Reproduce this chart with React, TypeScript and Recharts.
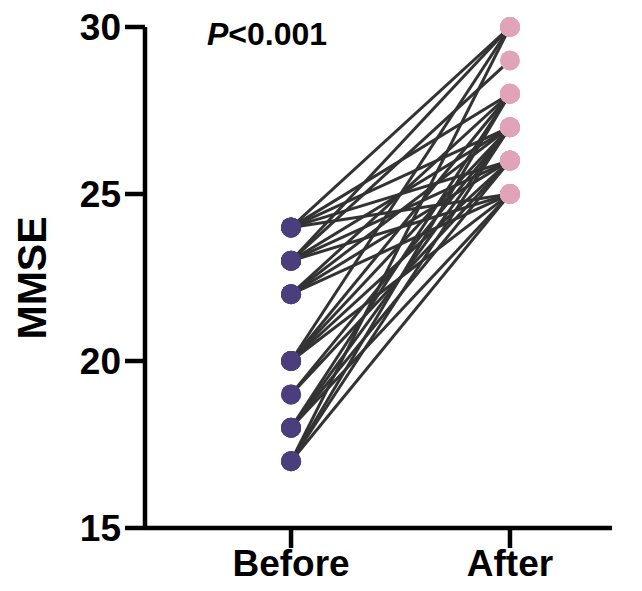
import { ScatterChart, Scatter, XAxis, YAxis } from "recharts";

const groups = ["Before", "After"];
const yTicks = [15, 20, 25, 30];

// paired MMSE scores, one entry per patient
const beforeScores = [24, 24, 24, 24, 24, 23, 23, 23, 23, 23, 22, 22, 22, 22, 20, 20, 20, 20, 20, 19, 19, 18, 18, 18, 18, 17, 17, 17, 17];
const afterScores = [30, 28, 27, 26, 25, 30, 29, 27, 26, 25, 28, 27, 26, 25, 30, 28, 27, 26, 25, 27, 26, 28, 27, 26, 25, 30, 28, 27, 25];

const FONT = "'Liberation Sans', Arial, sans-serif";

const pairs = beforeScores.map((b, i) => [
  { x: 0, y: b },
  { x: 1, y: afterScores[i] },
]);
const beforeDots = beforeScores.map((y) => ({ x: 0, y }));
const afterDots = afterScores.map((y) => ({ x: 1, y }));

const dot = (fill: string) => (p: any) => <circle cx={p.cx} cy={p.cy} r={10} fill={fill} />;

export default function App() {
  return (
    <div style={{ position: "absolute", left: 0, top: 0, width: 642, height: 591, background: "#fff" }}>
      <ScatterChart width={642} height={591} margin={{ top: 27, right: 30, bottom: 0, left: 0 }}>
        <XAxis
          type="number"
          dataKey="x"
          domain={[-0.667, 1.466]}
          ticks={[0, 1]}
          tickFormatter={(v) => groups[v]}
          allowDataOverflow
          height={63}
          axisLine={{ stroke: "#000", strokeWidth: 4.5 }}
          tickLine={{ stroke: "#000", strokeWidth: 4.5 }}
          tickSize={20}
          tickMargin={2}
          tick={{ fontSize: 37, fontWeight: 700, fontFamily: FONT, fill: "#000" }}
        />
        <YAxis
          type="number"
          dataKey="y"
          domain={[15, 30]}
          ticks={yTicks}
          width={145}
          axisLine={{ stroke: "#000", strokeWidth: 4.5 }}
          tickLine={{ stroke: "#000", strokeWidth: 4.5 }}
          tickSize={20}
          tickMargin={4}
          tick={{ fontSize: 37, fontWeight: 700, fontFamily: FONT, fill: "#000" }}
        />
        {pairs.map((d, i) => (
          <Scatter
            key={i}
            data={d}
            line={{ stroke: "#333", strokeWidth: 3 }}
            shape={() => <g />}
            isAnimationActive={false}
          />
        ))}
        <Scatter data={beforeDots} shape={dot("#4a3f7c")} isAnimationActive={false} />
        <Scatter data={afterDots} shape={dot("#e1a3b7")} isAnimationActive={false} />
      </ScatterChart>
      <div
        style={{
          position: "absolute",
          left: 32,
          top: 278,
          transform: "translate(-50%, -50%) rotate(-90deg)",
          fontFamily: FONT,
          fontWeight: 700,
          fontSize: 41,
          whiteSpace: "nowrap",
        }}
      >
        MMSE
      </div>
      <div
        style={{
          position: "absolute",
          left: 207,
          top: 16,
          fontFamily: FONT,
          fontWeight: 700,
          fontSize: 32,
          whiteSpace: "nowrap",
        }}
      >
        <i>P</i>&lt;0.001
      </div>
    </div>
  );
}
